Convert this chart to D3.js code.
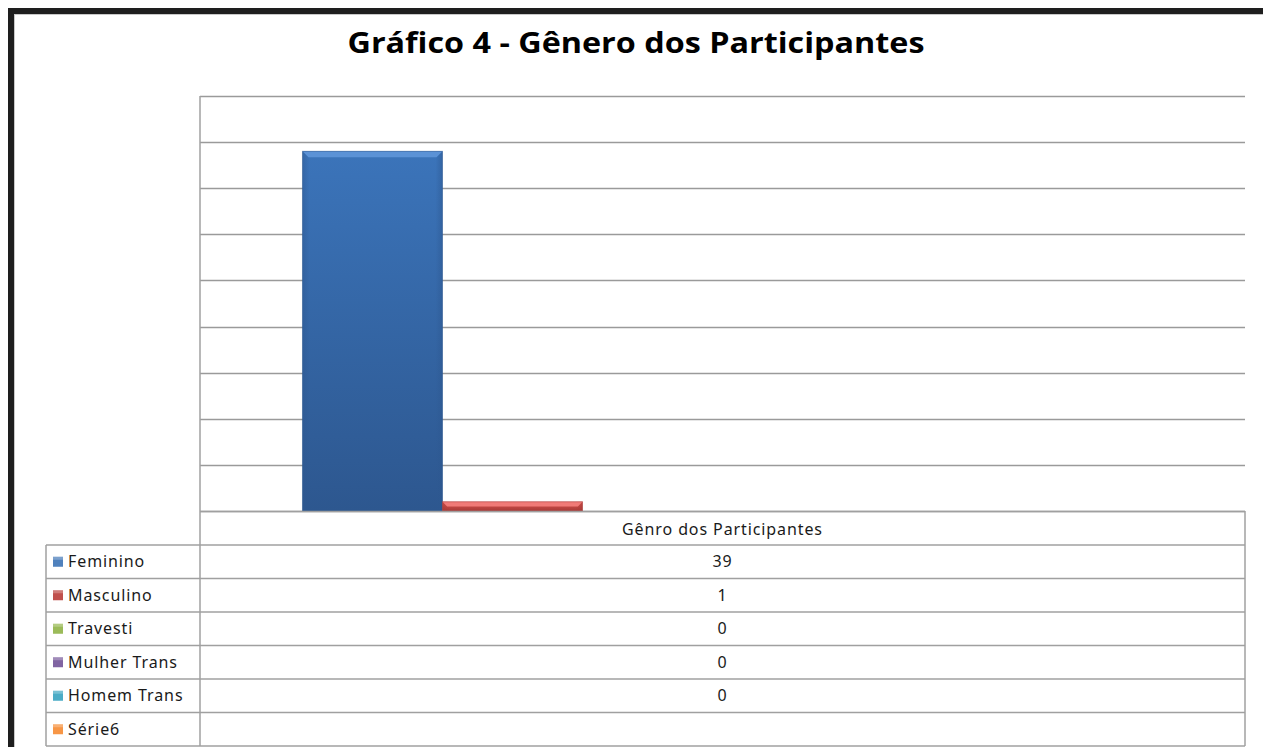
<!DOCTYPE html>
<html>
<head>
<meta charset="utf-8">
<script src="https://cdn.jsdelivr.net/npm/d3@7/dist/d3.min.js"></script>
<style>
  html, body { margin: 0; padding: 0; background: #fff; }
  svg { display: block; }
  .tbl { font-family: "Noto Sans", "Open Sans", sans-serif; font-size: 16px; fill: #1a1a1a; letter-spacing: 0.9px; }
</style>
</head>
<body>
<svg id="chart" width="1263" height="747"></svg>
<script>
const title = "Gráfico 4 - Gênero dos Participantes";
const category = "Gênro dos Participantes";
const series = ["Feminino", "Masculino", "Travesti", "Mulher Trans", "Homem Trans", "Série6"];
const values = [39, 1, 0, 0, 0, null];
const colors = ["#4f81bd", "#c0504d", "#9bbb59", "#8064a2", "#4bacc6", "#f79646"];
const barTop = ["#5b92d6", "#f07a77", "#b5d66f", "#9a7dbd", "#6ccbe6", "#ffb060"];
const barMain = ["#3b74ba", "#d9534f", "#8fb04e", "#735a96", "#41a0b9", "#e8873c"];
const barDark = ["#2d578f", "#a83a37", "#6f8a3b", "#594676", "#327e92", "#b86a2e"];
const yTicks = [0, 5, 10, 15, 20, 25, 30, 35, 40, 45];

const svg = d3.select("#chart");

// outer frame
svg.append("rect").attr("x", 8).attr("y", 8).attr("width", 1263).attr("height", 6).attr("fill", "#1e1e1e");
svg.append("rect").attr("x", 8).attr("y", 8).attr("width", 6).attr("height", 760).attr("fill", "#1e1e1e");
svg.append("line").attr("x1", 14).attr("x2", 1263).attr("y1", 14.5).attr("y2", 14.5).attr("stroke", "#c8c8c8");
svg.append("line").attr("x1", 14.5).attr("x2", 14.5).attr("y1", 14).attr("y2", 747).attr("stroke", "#c8c8c8");

// title
svg.append("text")
  .attr("x", 636).attr("y", 53)
  .attr("text-anchor", "middle")
  .attr("font-family", "'Open Sans', 'Noto Sans', sans-serif")
  .attr("font-weight", "bold")
  .attr("font-size", 28)
  .attr("fill", "#000")
  .attr("textLength", 577)
  .attr("lengthAdjust", "spacingAndGlyphs")
  .text(title);

const plotL = 200, plotR = 1245, plotT = 96, plotB = 511;
const y = d3.scaleLinear().domain([0, 45]).range([plotB, plotT]);
const x0 = d3.scaleBand().domain([category]).range([plotL, plotR]).paddingInner(0).paddingOuter(0.122);
const x1 = d3.scaleBand().domain(series).range([0, x0.bandwidth()]).padding(0);

// gridlines
const grid = svg.append("g").attr("stroke", "#9a9a9a").attr("stroke-width", 1.5);
grid.selectAll("line").data(yTicks).join("line")
  .attr("x1", plotL).attr("x2", plotR)
  .attr("y1", d => Math.round(y(d)) + 0.5).attr("y2", d => Math.round(y(d)) + 0.5);

// defs for bar gradients
const defs = svg.append("defs");
series.forEach((s, i) => {
  const g = defs.append("linearGradient").attr("id", "g" + i).attr("x1", 0).attr("y1", 0).attr("x2", 0).attr("y2", 1);
  g.append("stop").attr("offset", "0%").attr("stop-color", barMain[i]);
  g.append("stop").attr("offset", "100%").attr("stop-color", barDark[i]);
  const h = defs.append("linearGradient").attr("id", "h" + i).attr("x1", 0).attr("y1", 0).attr("x2", 1).attr("y2", 0);
  h.append("stop").attr("offset", "0%").attr("stop-color", barDark[i]).attr("stop-opacity", 0.45);
  h.append("stop").attr("offset", "5%").attr("stop-color", barDark[i]).attr("stop-opacity", 0);
  h.append("stop").attr("offset", "95%").attr("stop-color", barDark[i]).attr("stop-opacity", 0);
  h.append("stop").attr("offset", "100%").attr("stop-color", barDark[i]).attr("stop-opacity", 0.5);
});

// bars
const bars = svg.append("g");
series.forEach((s, i) => {
  const v = values[i];
  if (v == null || v <= 0) return;
  const bx = x0(category) + x1(s), bw = x1.bandwidth();
  const by = y(v), bh = y(0) - y(v);
  const g = bars.append("g");
  g.append("rect").attr("x", bx).attr("y", by).attr("width", bw).attr("height", bh).attr("fill", `url(#g${i})`);
  g.append("rect").attr("x", bx).attr("y", by).attr("width", bw).attr("height", bh).attr("fill", `url(#h${i})`);
  const bev = Math.min(6, bh / 2);
  g.append("path")
    .attr("d", `M${bx},${by} L${bx + bw},${by} L${bx + bw - bev},${by + bev} L${bx + bev},${by + bev} Z`)
    .attr("fill", barTop[i]);
  g.append("rect").attr("x", bx).attr("y", by).attr("width", bw).attr("height", bh)
    .attr("fill", "none").attr("stroke", barDark[i]).attr("stroke-opacity", 0.5).attr("stroke-width", 1);
});

// data table
const tblL = 46, tblR = 1245, tblB = 746;
const rowY = d3.scaleBand().domain(series).range([545, tblB]);
const lineC = "#a0a0a0";
const tbl = svg.append("g").attr("stroke", lineC).attr("stroke-width", 1.5).attr("fill", "none");
tbl.append("line").attr("x1", plotL).attr("x2", plotL).attr("y1", plotT).attr("y2", tblB);
tbl.append("line").attr("x1", plotL).attr("x2", tblR).attr("y1", plotB + 0.5).attr("y2", plotB + 0.5);
tbl.append("line").attr("x1", tblR).attr("x2", tblR).attr("y1", plotB).attr("y2", tblB);
tbl.append("line").attr("x1", tblL).attr("x2", tblL).attr("y1", 545).attr("y2", tblB);
tbl.selectAll("line.row").data(series).join("line").attr("class", "row")
  .attr("x1", tblL).attr("x2", tblR)
  .attr("y1", d => rowY(d)).attr("y2", d => rowY(d));
tbl.append("line").attr("x1", tblL).attr("x2", tblR).attr("y1", tblB).attr("y2", tblB);

// header text
svg.append("text").attr("class", "tbl")
  .attr("x", (plotL + tblR) / 2).attr("y", 535).attr("text-anchor", "middle")
  .text(category);

// rows
const rows = svg.append("g").selectAll("g").data(series).join("g")
  .attr("transform", d => `translate(0,${rowY(d)})`);
rows.append("rect")
  .attr("x", 53).attr("y", rowY.bandwidth() / 2 - 5).attr("width", 10).attr("height", 10)
  .attr("fill", (d, i) => colors[i]);
rows.append("rect")
  .attr("x", 53).attr("y", rowY.bandwidth() / 2 - 5).attr("width", 10).attr("height", 3)
  .attr("fill", "#fff").attr("opacity", 0.25);
rows.append("text").attr("class", "tbl")
  .attr("x", 68).attr("y", rowY.bandwidth() / 2 + 5.5)
  .text(d => d);
rows.append("text").attr("class", "tbl")
  .attr("x", (plotL + tblR) / 2).attr("y", rowY.bandwidth() / 2 + 5.5).attr("text-anchor", "middle")
  .text((d, i) => values[i] == null ? "" : values[i]);
</script>
</body>
</html>
